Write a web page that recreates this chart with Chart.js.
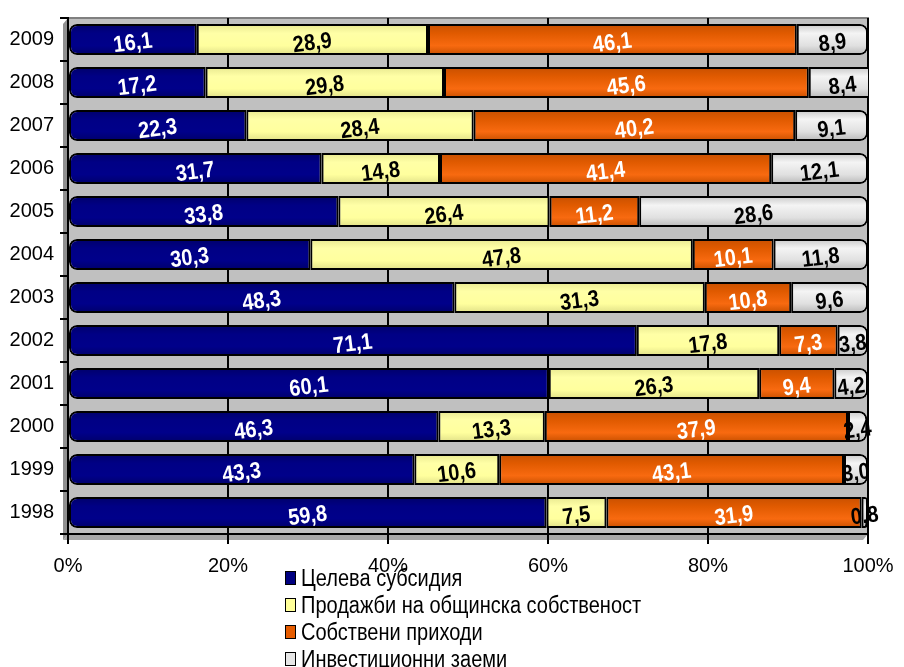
<!DOCTYPE html>
<html><head><meta charset="utf-8">
<script src="https://cdn.jsdelivr.net/npm/chart.js@4/dist/chart.umd.min.js"></script>
<style>
html,body{margin:0;padding:0;background:#fff;}
#wrap{position:relative;width:904px;height:667px;}
#legend{position:absolute;left:285px;top:564px;font-family:"Liberation Sans",Arial,sans-serif;font-size:20px;color:#000;}
#legend div{height:27px;line-height:24px;display:flex;align-items:center;white-space:nowrap;}
#legend span.t{display:inline-block;transform:scaleY(1.15);}
#legend span.b{display:inline-block;width:9px;height:12px;border:1.5px solid #000;margin-right:5px;}
</style>
</head><body>
<div id="wrap"><canvas id="c" width="904" height="667"></canvas>
<div id="legend"></div></div>
<script>
const years = ['2009','2008','2007','2006','2005','2004','2003','2002','2001','2000','1999','1998'];
const seriesNames = ['Целева субсидия','Продажби на общинска собственост','Собствени приходи','Инвестиционни заеми'];
const subsidy = [16.1,17.2,22.3,31.7,33.8,30.3,48.3,71.1,60.1,46.3,43.3,59.8];
const sales   = [28.9,29.8,28.4,14.8,26.4,47.8,31.3,17.8,26.3,13.3,10.6,7.5];
const ownRev  = [46.1,45.6,40.2,41.4,11.2,10.1,10.8,7.3,9.4,37.9,43.1,31.9];
const loans   = [8.9,8.4,9.1,12.1,28.6,11.8,9.6,3.8,4.2,2.4,3.0,0.8];
const xTicks = [0,20,40,60,80,100];

const colors = ['#000080','#FFFF99','#E65C00','#E6E6E6'];
const shades = [
  ['#00006A','#000085','#00008A','#00006A'],
  ['#E8E890','#FFFFA6','#FFFF9E','#E0E088'],
  ['#C85000','#E05A00','#F86A10','#C85000'],
  ['#C8C8C8','#F4F4F4','#E0E0E0','#B8B8B8']
];
const labelColors = ['#fff','#000','#fff','#000'];
const allData = [subsidy, sales, ownRev, loans];
const BAR_PCT = 0.72;

const legendEl = document.getElementById('legend');
seriesNames.forEach((n,i)=>{
  const d=document.createElement('div');
  d.innerHTML='<span class="b" style="background:'+colors[i]+'"></span><span class="t">'+n+'</span>';
  legendEl.appendChild(d);
});

function shadeFor(di){
  return function(c){
    const chart = c.chart, ys = chart.scales && chart.scales.y;
    if(!ys || c.dataIndex===undefined || !chart.chartArea) return colors[di];
    const cy = ys.getPixelForValue(c.dataIndex);
    const h = (chart.chartArea.bottom-chart.chartArea.top)/years.length*BAR_PCT;
    const g = chart.ctx.createLinearGradient(0,cy-h/2,0,cy+h/2);
    const s = shades[di];
    g.addColorStop(0,s[0]);g.addColorStop(0.3,s[1]);g.addColorStop(0.7,s[2]);g.addColorStop(1,s[3]);
    return g;
  };
}

const bgPlugin = {
  id:'bg',
  beforeDraw(chart){
    const {ctx, chartArea:a} = chart;
    ctx.save();
    ctx.fillStyle='#C0C0C0';
    ctx.fillRect(a.left, a.top, a.right-a.left, a.bottom-a.top);
    ctx.fillStyle='#A8A8A8';
    ctx.beginPath();
    ctx.moveTo(a.left,a.bottom);ctx.lineTo(a.right,a.bottom);
    ctx.lineTo(a.right-5,a.bottom+6);ctx.lineTo(a.left-5,a.bottom+6);ctx.closePath();ctx.fill();
    ctx.fillStyle='#909090';
    ctx.beginPath();
    ctx.moveTo(a.left,a.top);ctx.lineTo(a.left,a.bottom);
    ctx.lineTo(a.left-5,a.bottom+6);ctx.lineTo(a.left-5,a.top+6);ctx.closePath();ctx.fill();
    ctx.strokeStyle='#808080';ctx.lineWidth=2;
    ctx.strokeRect(a.left,a.top,a.right-a.left,a.bottom-a.top);
    ctx.restore();
  }
};

const labelPlugin = {
  id:'lbl',
  afterDatasetsDraw(chart){
    const {ctx} = chart;
    ctx.save();
    ctx.font='bold 20px "Liberation Sans", Arial, sans-serif';
    ctx.textAlign='center';ctx.textBaseline='middle';
    chart.data.datasets.forEach((ds,di)=>{
      const meta = chart.getDatasetMeta(di);
      meta.data.forEach((bar,i)=>{
        const v = ds.data[i];
        const cx = (bar.x + bar.base)/2;
        const cy = bar.y+4;
        ctx.save();
        ctx.translate(cx, cy);
        ctx.rotate(-7*Math.PI/180);
        ctx.scale(1,1.15);
        ctx.fillStyle = labelColors[di];
        ctx.fillText(v.toFixed(1).replace('.',','), 0, 0);
        ctx.restore();
      });
    });
    ctx.restore();
  }
};

const radii = [
  {topLeft:8,bottomLeft:8,topRight:0,bottomRight:0},
  0, 0,
  {topLeft:0,bottomLeft:0,topRight:8,bottomRight:8}
];

new Chart(document.getElementById('c'), {
  type:'bar',
  data:{
    labels: years,
    datasets: allData.map((d,i)=>({
      label: seriesNames[i], data: d, backgroundColor: shadeFor(i),
      borderColor:'#000', borderWidth:2, borderSkipped:false,
      borderRadius: radii[i],
      barPercentage:BAR_PCT, categoryPercentage:1
    }))
  },
  options:{
    indexAxis:'y', responsive:false, animation:false,
    layout:{padding:{left:0,right:36,top:15,bottom:83}},
    plugins:{legend:{display:false}, tooltip:{enabled:false}},
    scales:{
      x:{stacked:true, min:0, max:100,
        afterBuildTicks(s){ s.ticks = xTicks.map(v=>({value:v})); },
        afterFit(s){ s.height=50; },
        ticks:{callback:v=>v+'%', color:'#000', padding:10,
          font:{family:'"Liberation Sans", Arial, sans-serif', size:20}},
        grid:{color:'#000', lineWidth:2, tickLength:10, drawOnChartArea:true},
        border:{color:'#000', width:2}
      },
      y:{stacked:true,
        afterFit(s){ s.width=68; },
        ticks:{color:'#000', padding:6,
          font:{family:'"Liberation Sans", Arial, sans-serif', size:20}},
        grid:{offset:true, drawOnChartArea:false, color:'#000', lineWidth:2, tickLength:8},
        border:{color:'#000', width:2}
      }
    }
  },
  plugins:[bgPlugin,labelPlugin]
});
</script>
</body></html>
